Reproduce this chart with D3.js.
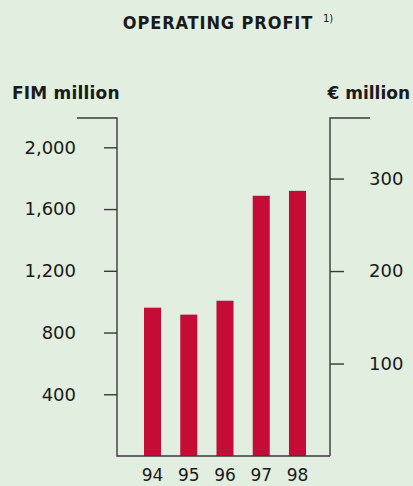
<!DOCTYPE html>
<html>
<head>
<meta charset="utf-8">
<script src="https://cdn.jsdelivr.net/npm/d3@7"></script>
<style>
  body { margin: 0; background: #e2eedf; }
  svg { display: block; font-family: "DejaVu Sans", sans-serif; }
</style>
</head>
<body>
<svg></svg>
<script>
let width = 413, height = 486;
let svg = d3.select("svg")
    .attr("width", width)
    .attr("height", height);

// data
var years = ["94", "95", "96", "97", "98"];
var profitFIM = [961, 916, 1006, 1686, 1718];
var fimTicks = [400, 800, 1200, 1600, 2000];
var eurTicks = [100, 200, 300];

var axisColor = "#3a3a3a";
var barColor = "#c40c36";

// scales
var x = d3.scaleBand()
    .domain(years)
    .range([134.4, 315.6])
    .paddingInner(0.53)
    .paddingOuter(0.265);

var yFIM = d3.scaleLinear()
    .domain([0, 2190])
    .range([456, 118]);

var yEUR = d3.scaleLinear()
    .domain([0, 365.5])
    .range([456, 118]);

svg.append("rect")
    .attr("width", width)
    .attr("height", height)
    .attr("fill", "#e2eedf");

// title
svg.append("text")
    .attr("x", 218)
    .attr("y", 29)
    .attr("text-anchor", "middle")
    .style("font-family", "'DejaVu Sans Condensed', 'DejaVu Sans', sans-serif")
    .style("font-stretch", "condensed")
    .style("font-size", "18px")
    .style("font-weight", "bold")
    .style("letter-spacing", "0.9px")
    .attr("fill", "#1a1a1a")
    .text("OPERATING PROFIT");

svg.append("text")
    .attr("x", 323)
    .attr("y", 22)
    .style("font-size", "10px")
    .attr("fill", "#1a1a1a")
    .text("1)");

// unit labels
svg.append("text")
    .attr("x", 12)
    .attr("y", 99)
    .style("font-size", "17px")
    .style("font-weight", "bold")
    .style("letter-spacing", "0.2px")
    .attr("fill", "#1a1a1a")
    .text("FIM million");

svg.append("text")
    .attr("x", 410)
    .attr("y", 99)
    .attr("text-anchor", "end")
    .style("font-size", "17px")
    .style("font-weight", "bold")
    .attr("fill", "#1a1a1a")
    .text("€ million");

// bars
svg.append("g")
    .selectAll("rect")
    .data(profitFIM)
    .enter()
    .append("rect")
      .attr("x", (d, i) => x(years[i]))
      .attr("width", x.bandwidth())
      .attr("y", d => yFIM(d))
      .attr("height", d => yFIM(0) - yFIM(d))
      .attr("fill", barColor);

// left axis
let left = svg.append("g")
    .attr("transform", "translate(117,0)")
    .call(d3.axisLeft(yFIM).tickValues(fimTicks).tickSize(13).tickPadding(28)
        .tickFormat(d3.format(",")));
left.select(".domain").remove();

svg.append("path")
    .attr("d", "M77," + yFIM.range()[1] + "H117V" + yFIM(0) + "H330")
    .attr("fill", "none")
    .attr("stroke", axisColor)
    .attr("stroke-width", 1.4);

// right axis
let right = svg.append("g")
    .attr("transform", "translate(330,0)")
    .call(d3.axisRight(yEUR).tickValues(eurTicks).tickSize(14).tickPadding(25));
right.select(".domain").remove();

svg.append("path")
    .attr("d", "M370," + yEUR.range()[1] + "H330V" + yEUR(0))
    .attr("fill", "none")
    .attr("stroke", axisColor)
    .attr("stroke-width", 1.4);

// bottom labels
let bottom = svg.append("g")
    .attr("transform", "translate(0," + yFIM(0) + ")")
    .call(d3.axisBottom(x).tickSize(0).tickPadding(13));
bottom.select(".domain").remove();

svg.selectAll(".tick line")
    .attr("stroke", axisColor)
    .attr("stroke-width", 1.4);
svg.selectAll(".tick text")
    .attr("fill", "#1a1a1a")
    .style("font-size", "18px")
    .style("font-family", "DejaVu Sans, sans-serif");
bottom.selectAll(".tick text")
    .style("font-size", "17px");
</script>
</body>
</html>
